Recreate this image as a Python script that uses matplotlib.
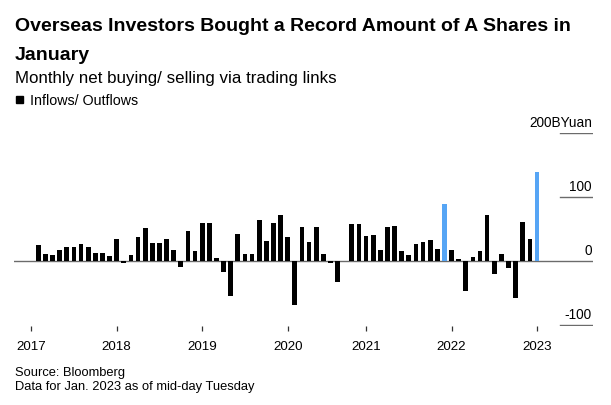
import matplotlib
matplotlib.use("Agg")
import matplotlib.pyplot as plt
from matplotlib.patches import Rectangle

plt.rcParams['font.family'] = ['Liberation Sans', 'DejaVu Sans']

# ---- data (billion yuan, monthly net northbound flows) ----
months = [f"{y}-{m:02d}" for y in range(2017, 2023) for m in range(1, 13)
          if (y, m) != (2020, 1)] + ["2023-01"]

values_2017 = [0, 26, 11, 9.4, 17, 22, 23, 27.6, 22, 12.5, 12.5, 7.8]
values_2018 = [35, -2, 9.4, 37.5, 51.5, 29, 29, 35, 17.7, -9.4, 47, 15.6]
values_2019 = [60, 60, 4.7, -17, -53.7, 42.7, 12, 12, 65, 31.7, 60, 72.3]
values_2020 = [38, -68, 53, 30.7, 53, 11, -2.6, -33, 0.5, 58, 58]   # Feb-Dec
values_2021 = [39, 40.6, 18, 53, 55.7, 15.6, 10.4, 27, 30, 33, 18.7, 89]
values_2022 = [17, 3.6, -46, 7.3, 16.6, 72.3, -20, 12, -11, -57, 61, 35]
values_2023 = [139.5]
values = (values_2017 + values_2018 + values_2019 + values_2020 +
          values_2021 + values_2022 + values_2023)

highlight = ["2021-12", "2023-01"]
y_ticks = [200, 100, 0, -100]
y_tick_labels = ["200BYuan", "100", "0", "-100"]

title_lines = ["Overseas Investors Bought a Record Amount of A Shares in", "January"]
subtitle = "Monthly net buying/ selling via trading links"
legend_label = "Inflows/ Outflows"
notes = ["Source: Bloomberg", "Data for Jan. 2023 as of mid-day Tuesday"]

# ---- figure ----
W, H = 611, 406
fig = plt.figure(figsize=(W / 100, H / 100), dpi=100)
fig.patch.set_facecolor("white")

ax_l, ax_r, ax_t, ax_b = 14.3, 593.3, 134.3, 327.0
ax = fig.add_axes([ax_l / W, (H - ax_b) / H, (ax_r - ax_l) / W, (ax_b - ax_t) / H])

x = list(range(len(values)))
colors = ["#56a5f5" if m in highlight else "#000000" for m in months]
ax.bar(x, values, width=0.66, color=colors, zorder=3)

ax.set_xlim(-2.37, 78.9)
ax.set_ylim(-101, 200)

# zero line and short gridline segments at right
ax.axhline(0, color="#6b6b6b", lw=1.0, zorder=2)
seg_start = (560.3 - ax_l) / (ax_r - ax_l)
for yv, lab in zip(y_ticks, y_tick_labels):
    if yv != 0:
        ax.axhline(yv, xmin=seg_start, xmax=1.0, color="#6b6b6b", lw=1.0, zorder=2)
    ax.annotate(lab, xy=(1.0, yv), xycoords=("axes fraction", "data"),
                xytext=(-1, 5.6), textcoords="offset points",
                ha="right", va="baseline", fontsize=9.8, color="#000000")

# year ticks
year_idx = [i for i, m in enumerate(months)
            if i == 0 or months[i - 1][:4] != m[:4]]
ax.set_xticks(year_idx)
ax.set_xticklabels([months[i][:4] for i in year_idx], fontsize=9.6)
ax.tick_params(axis="x", length=3.8, width=0.9, color="#333333", pad=6.5,
               labelcolor="#000000")
ax.set_yticks([])
for s in ax.spines.values():
    s.set_visible(False)

# ---- texts ----
def fy(px):
    return (H - px) / H

fig.text(15 / W, fy(30.7), title_lines[0], fontsize=14, fontweight="bold",
         va="baseline", ha="left", color="#000000")
fig.text(15 / W, fy(60.0), title_lines[1], fontsize=14, fontweight="bold",
         va="baseline", ha="left", color="#000000")
fig.text(15 / W, fy(82.7), subtitle, fontsize=12.2, va="baseline", ha="left",
         color="#000000")
fig.add_artist(Rectangle((15.6 / W, fy(104.3)), 7.3 / W, 7.6 / H,
                         transform=fig.transFigure, color="#000000"))
fig.text(30.5 / W, fy(105.0), legend_label, fontsize=10.3, va="baseline",
         ha="left", color="#000000")
fig.text(15 / W, fy(376.0), notes[0], fontsize=9.3, va="baseline", ha="left",
         color="#000000")
fig.text(15 / W, fy(390.0), notes[1], fontsize=9.3, va="baseline", ha="left",
         color="#000000")

fig.savefig("out.png", dpi=100, facecolor="white")
